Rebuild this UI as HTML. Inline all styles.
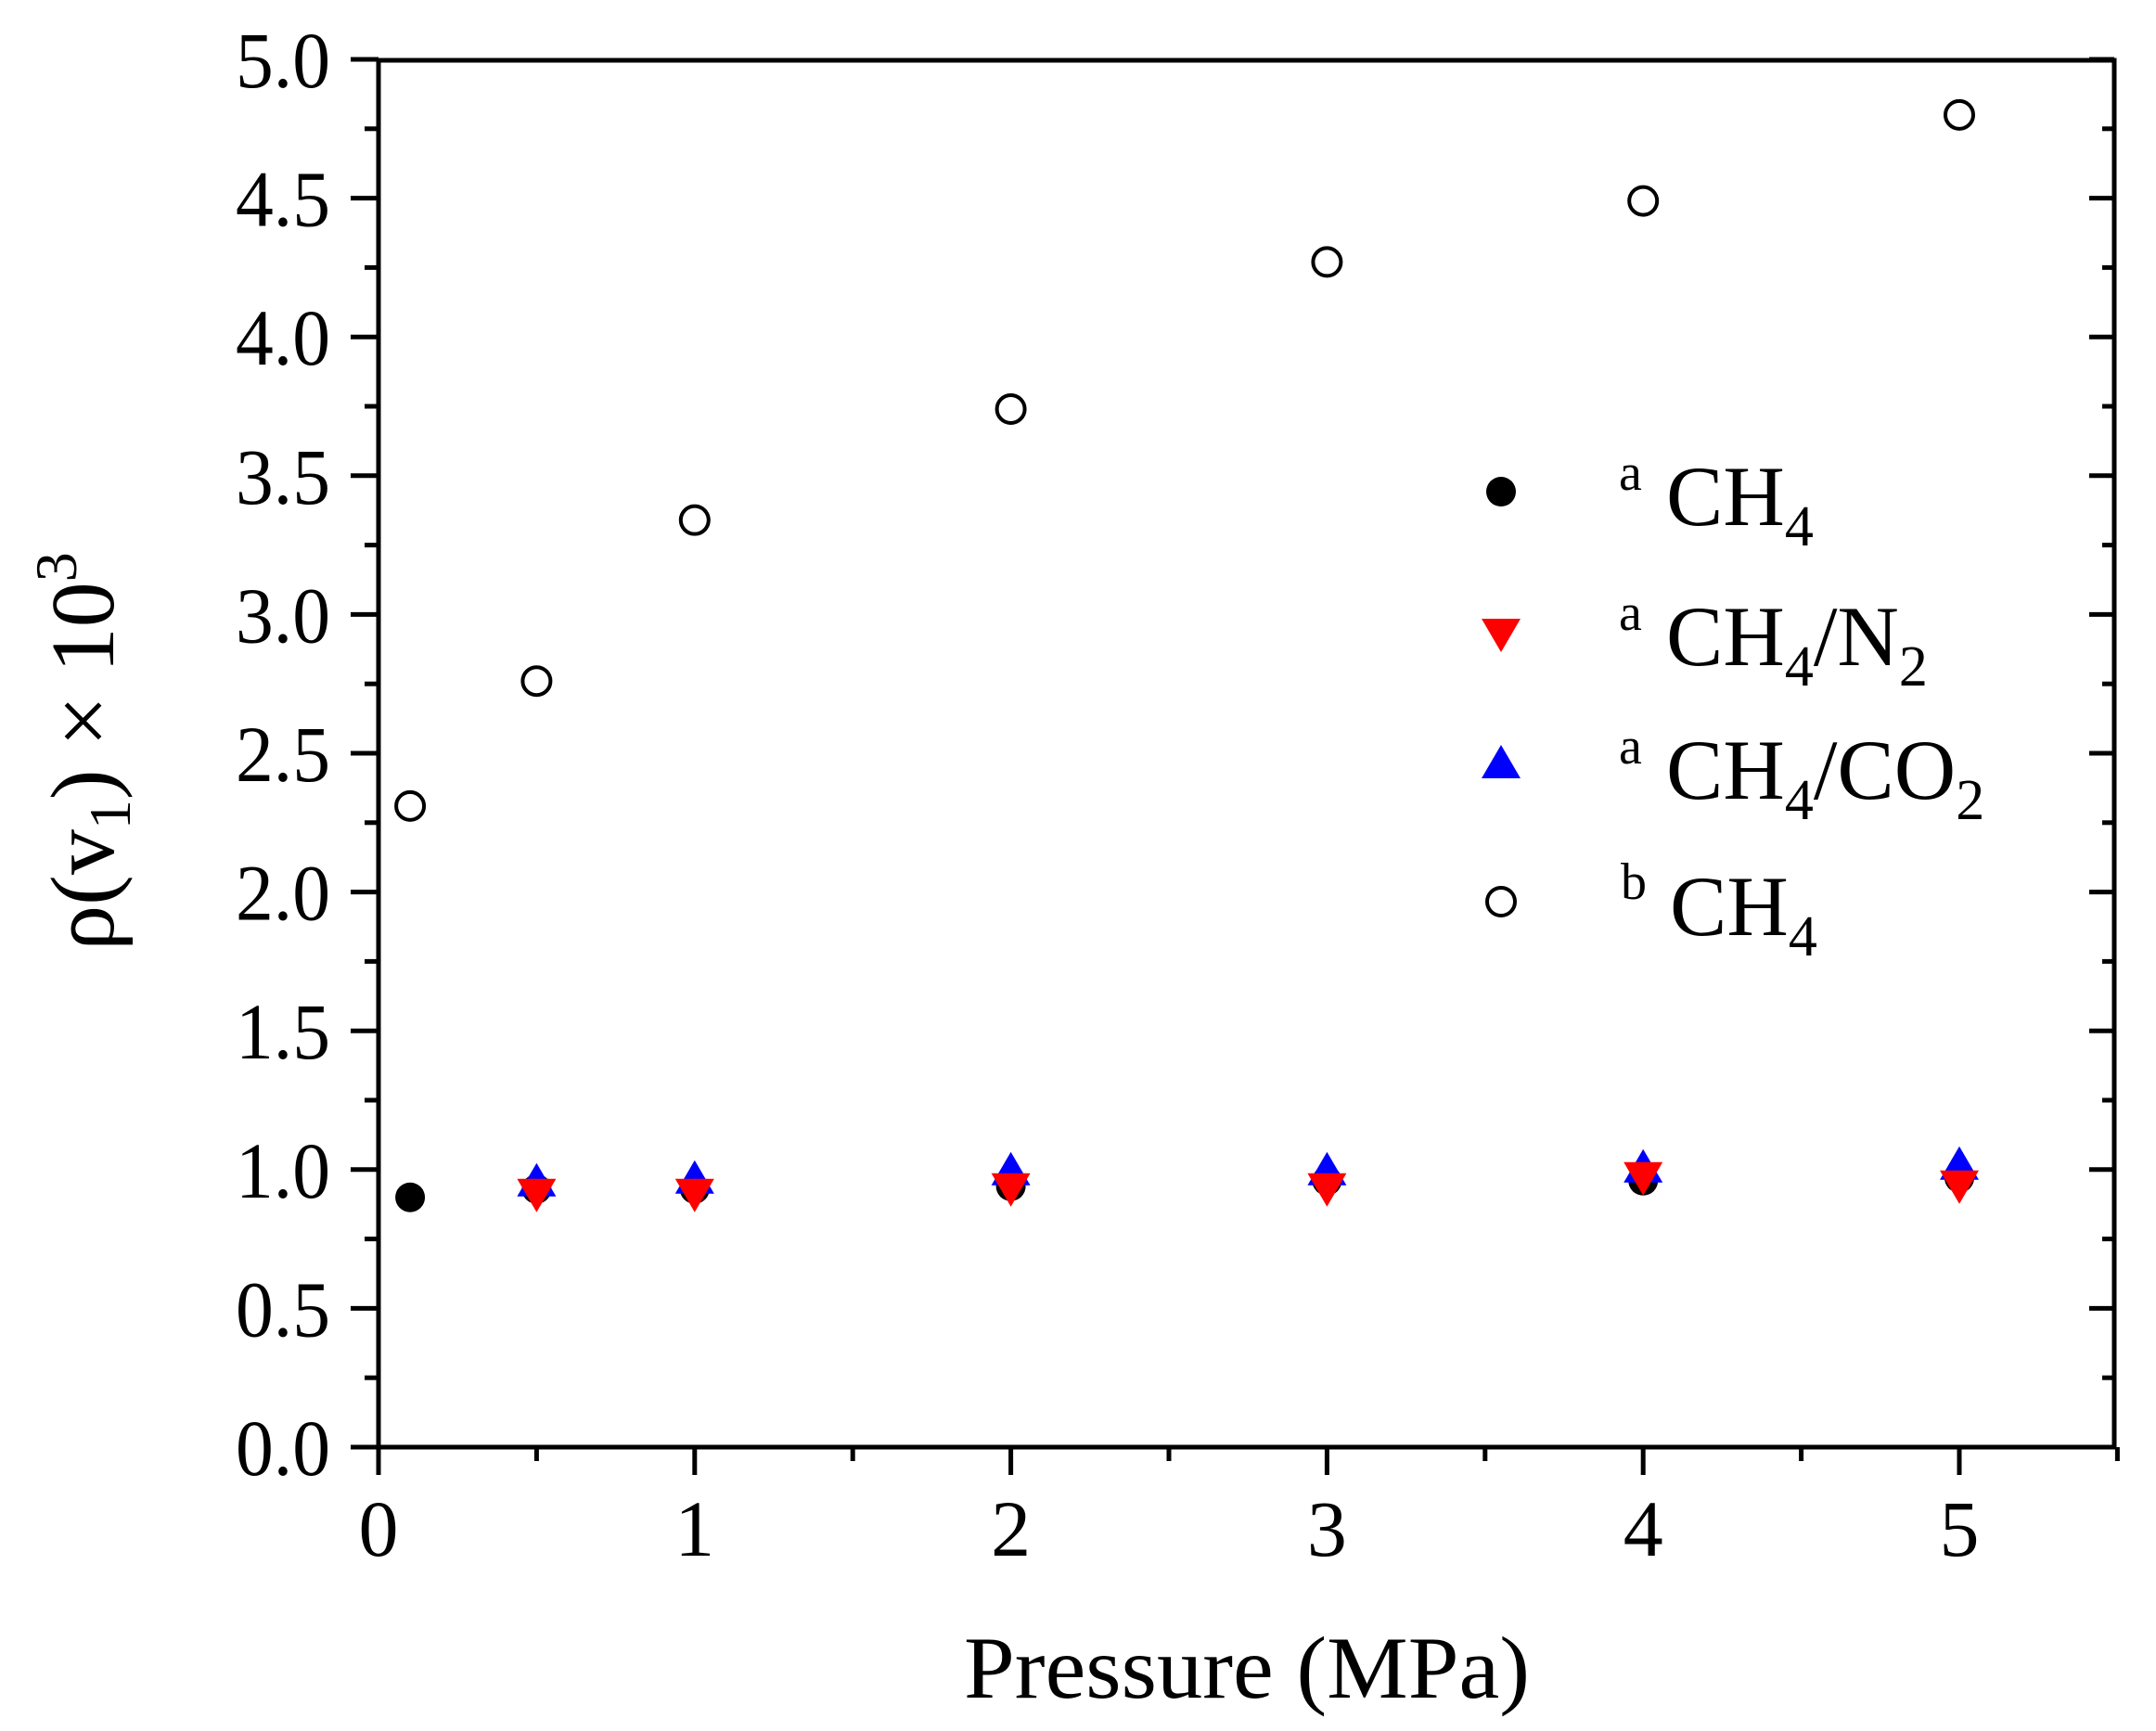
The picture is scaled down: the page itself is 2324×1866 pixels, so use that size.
<!DOCTYPE html>
<html><head><style>html,body{margin:0;padding:0;background:#fff}svg{display:block}</style></head>
<body>
<svg width="2324" height="1866" viewBox="0 0 2324 1866" xmlns="http://www.w3.org/2000/svg" font-family="'Liberation Serif', serif">
<rect width="2324" height="1866" fill="#fff"/>
<g stroke="#000" stroke-width="5" fill="none">
<rect x="408" y="65" width="1871" height="1495"/>
</g>
<g stroke="#000" stroke-width="5" id="ticks"></g>
<g id="labels" font-size="86" fill="#000"></g>
<g id="data"></g>
<text x="1344" y="1830" font-size="95" text-anchor="middle" textLength="610" lengthAdjust="spacingAndGlyphs">Pressure (MPa)</text>
<text transform="translate(122,810) rotate(-90)" font-size="98" text-anchor="middle">ρ(v<tspan font-size="64" dy="18">1</tspan><tspan dy="-18">) × 10</tspan><tspan font-size="64" dy="-40">3</tspan></text>
<circle cx="1618" cy="530" r="16" fill="#000"/>
<polygon points="1597,667 1639,667 1618,703" fill="#f00"/>
<polygon points="1597,839 1639,839 1618,803" fill="#00f"/>
<circle cx="1618" cy="972" r="15" fill="none" stroke="#000" stroke-width="4"/>
<g font-size="92" fill="#000">
<text x="1745" y="528" font-size="56">a</text>
<text x="1796" y="566">CH<tspan font-size="62" dy="22">4</tspan></text>
<text x="1745" y="679" font-size="56">a</text>
<text x="1796" y="717">CH<tspan font-size="62" dy="22">4</tspan><tspan dy="-22">/N</tspan><tspan font-size="62" dy="22">2</tspan></text>
<text x="1745" y="823" font-size="56">a</text>
<text x="1796" y="861">CH<tspan font-size="62" dy="22">4</tspan><tspan dy="-22">/CO</tspan><tspan font-size="62" dy="22">2</tspan></text>
<text x="1747" y="969" font-size="56">b</text>
<text x="1800" y="1008">CH<tspan font-size="62" dy="22">4</tspan></text>
</g>
<script>
var NS="http://www.w3.org/2000/svg";
function X(v){return 408+v*340.8}function Y(v){return 1560-v*299.2}
function el(p,t,a){var e=document.createElementNS(NS,t);for(var k in a)e.setAttribute(k,a[k]);p.appendChild(e);return e}
var tk=document.getElementById('ticks'),lb=document.getElementById('labels'),d=document.getElementById('data');
for(var i=0;i<=20;i++){var v=i*0.25,y=Y(v),maj=i%2==0;
el(tk,'line',{x1:408-(maj?30:15),x2:408,y1:y,y2:y});
el(tk,'line',{x1:2279,x2:2279-(maj?27:13),y1:y,y2:y});
if(maj){var t=el(lb,'text',{x:254,y:y+30,textLength:102,lengthAdjust:'spacingAndGlyphs'});t.textContent=v.toFixed(1);}}
for(var i=0;i<=11;i++){var v=i*0.5,x=X(v),maj=i%2==0;
el(tk,'line',{x1:x,x2:x,y1:1560,y2:1560+(maj?30:15)});
if(maj){var t=el(lb,'text',{x:x,y:1677,'text-anchor':'middle'});t.textContent=(v).toString();}}
var xs=[0.5,1,2,3,4,5];
var blk=[0.93,0.93,0.94,0.96,0.96,0.97],red=[0.92,0.92,0.94,0.94,0.98,0.95],blu=[0.95,0.96,0.99,0.99,1.0,1.01];
el(d,'circle',{cx:X(0.1),cy:Y(0.9),r:16,fill:'#000'});
xs.forEach(function(v,i){el(d,'circle',{cx:X(v),cy:Y(blk[i]),r:16,fill:'#000'})});
xs.forEach(function(v,i){var x=X(v),y=Y(blu[i]);el(d,'polygon',{points:(x-21)+','+(y+14)+' '+(x+21)+','+(y+14)+' '+x+','+(y-22),fill:'#00f'})});
xs.forEach(function(v,i){var x=X(v),y=Y(red[i]);el(d,'polygon',{points:(x-21)+','+(y-14)+' '+(x+21)+','+(y-14)+' '+x+','+(y+22),fill:'#f00'})});
[[0.1,2.31],[0.5,2.76],[1,3.34],[2,3.74],[3,4.27],[4,4.49],[5,4.80]].forEach(function(p){el(d,'circle',{cx:X(p[0]),cy:Y(p[1]),r:15,fill:'none',stroke:'#000','stroke-width':4})});
</script>
</svg>
</body></html>
